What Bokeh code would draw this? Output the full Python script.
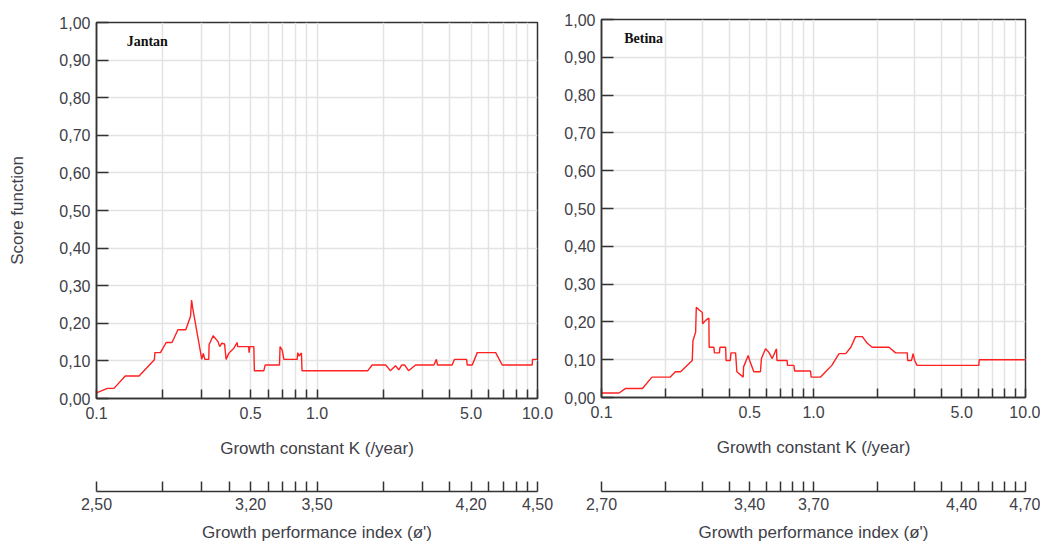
from bokeh.plotting import figure
from bokeh.layouts import row, column
from bokeh.models import FixedTicker, Label, Range1d
from bokeh.embed import file_html
from bokeh.resources import INLINE

# ---------------- data ----------------
k_jantan = [0.100, 0.112, 0.120, 0.135, 0.156, 0.183, 0.184, 0.195, 0.207, 0.220,
            0.234, 0.254, 0.267, 0.270, 0.273, 0.296, 0.300, 0.305, 0.310, 0.323,
            0.324, 0.338, 0.355, 0.362, 0.370, 0.381, 0.387, 0.398, 0.412, 0.420,
            0.434, 0.437, 0.490, 0.492, 0.496, 0.517, 0.520, 0.574, 0.582, 0.676,
            0.680, 0.695, 0.708, 0.813, 0.818, 0.828, 0.850, 0.855, 1.70, 1.78,
            2.05, 2.15, 2.27, 2.35, 2.42, 2.50, 2.60, 2.80, 3.39, 3.48,
            3.52, 4.10, 4.20, 4.77, 4.80, 5.06, 5.33, 6.46, 6.92, 9.46,
            9.50, 10.0]
s_jantan = [0.015, 0.027, 0.027, 0.060, 0.060, 0.103, 0.122, 0.122, 0.149, 0.149,
            0.183, 0.183, 0.219, 0.262, 0.241, 0.125, 0.104, 0.120, 0.104, 0.104,
            0.143, 0.167, 0.152, 0.138, 0.147, 0.145, 0.104, 0.120, 0.129, 0.134,
            0.149, 0.138, 0.138, 0.122, 0.138, 0.138, 0.074, 0.074, 0.089, 0.089,
            0.138, 0.129, 0.104, 0.104, 0.122, 0.113, 0.121, 0.074, 0.074, 0.089,
            0.089, 0.074, 0.087, 0.076, 0.089, 0.089, 0.074, 0.089, 0.089, 0.104,
            0.089, 0.089, 0.104, 0.104, 0.089, 0.089, 0.122, 0.122, 0.089, 0.089,
            0.104, 0.104]

k_betina = [0.100, 0.121, 0.130, 0.156, 0.173, 0.211, 0.223, 0.236, 0.268, 0.270,
            0.278, 0.280, 0.290, 0.299, 0.300, 0.310, 0.321, 0.322, 0.339, 0.341,
            0.360, 0.362, 0.385, 0.387, 0.405, 0.408, 0.429, 0.435, 0.466, 0.468,
            0.492, 0.500, 0.523, 0.562, 0.568, 0.594, 0.615, 0.639, 0.648, 0.669,
            0.672, 0.751, 0.754, 0.808, 0.815, 0.968, 0.975, 1.08, 1.14, 1.22,
            1.32, 1.42, 1.50, 1.58, 1.70, 1.79, 1.89, 2.27, 2.44, 2.77,
            2.78, 2.90, 2.95, 3.00, 3.08, 6.02, 6.05, 10.0]
s_betina = [0.012, 0.012, 0.024, 0.024, 0.054, 0.054, 0.068, 0.068, 0.098, 0.150,
            0.173, 0.239, 0.231, 0.225, 0.195, 0.204, 0.210, 0.133, 0.133, 0.118,
            0.118, 0.133, 0.133, 0.098, 0.098, 0.118, 0.118, 0.068, 0.054, 0.081,
            0.111, 0.098, 0.068, 0.068, 0.103, 0.129, 0.120, 0.103, 0.111, 0.129,
            0.098, 0.098, 0.085, 0.085, 0.070, 0.070, 0.054, 0.054, 0.068, 0.085,
            0.116, 0.116, 0.133, 0.161, 0.161, 0.144, 0.133, 0.133, 0.118, 0.118,
            0.098, 0.098, 0.116, 0.098, 0.085, 0.085, 0.100, 0.100]

k_major = [0.1, 0.5, 1.0, 5.0, 10.0]
k_minor = [0.2, 0.3, 0.4, 0.6, 0.7, 0.8, 0.9, 2.0, 3.0, 4.0, 6.0, 7.0, 8.0, 9.0]
k_labels = ["0.1", "0.5", "1.0", "5.0", "10.0"]
score_ticks = [0.0, 0.1, 0.2, 0.3, 0.4, 0.5, 0.6, 0.7, 0.8, 0.9, 1.0]
score_labels = ["0,00", "0,10", "0,20", "0,30", "0,40", "0,50",
                "0,60", "0,70", "0,80", "0,90", "1,00"]
phi_labels_jantan = ["2,50", "3,20", "3,50", "4,20", "4,50"]
phi_labels_betina = ["2,70", "3,40", "3,70", "4,40", "4,70"]

FONT = "Liberation Sans"
TXT = "#404048"
DARK = "#333333"
GRID = "#e3e3e3"
TICK_FS = "16px"
LABEL_FS = "17px"


def main_panel(k, s, title, title_x, width, b_left, b_right, b_top, b_bottom, ylabel):
    p = figure(width=width, height=463, x_axis_type="log",
               x_range=Range1d(0.1, 10.0), y_range=Range1d(0.0, 1.0),
               output_backend="svg", toolbar_location=None,
               min_border_left=b_left, min_border_right=b_right,
               min_border_top=b_top, min_border_bottom=b_bottom)
    p.line(k, s, line_color="#ff2020", line_width=1.4)

    xt = FixedTicker(ticks=k_major, minor_ticks=k_minor)
    p.xaxis.ticker = xt
    p.xgrid.ticker = xt
    p.xaxis.major_label_overrides = dict(zip(k_major, k_labels))
    p.yaxis.ticker = FixedTicker(ticks=score_ticks)
    p.ygrid.ticker = FixedTicker(ticks=score_ticks)
    p.yaxis.major_label_overrides = dict(zip(score_ticks, score_labels))

    p.xgrid.grid_line_color = GRID
    p.xgrid.minor_grid_line_color = GRID
    p.xgrid.grid_line_width = 1.5
    p.xgrid.minor_grid_line_width = 1.5
    p.ygrid.grid_line_color = GRID
    p.ygrid.grid_line_width = 1.5

    for ax in (p.xaxis[0], p.yaxis[0]):
        ax.axis_line_color = DARK
        ax.axis_line_width = 1.5
        ax.major_tick_line_color = DARK
        ax.major_tick_line_width = 1.5
        ax.major_tick_out = 0
        ax.major_label_text_font = FONT
        ax.major_label_text_font_size = TICK_FS
        ax.major_label_text_color = TXT
        ax.axis_label_text_font = FONT
        ax.axis_label_text_font_size = LABEL_FS
        ax.axis_label_text_color = TXT
        ax.axis_label_text_font_style = "normal"
    p.xaxis.major_tick_in = 9
    p.xaxis.minor_tick_in = 9
    p.xaxis.minor_tick_out = 0
    p.xaxis.minor_tick_line_color = DARK
    p.xaxis.minor_tick_line_width = 1.5
    p.xaxis.major_label_standoff = 8
    p.xaxis.axis_label = "Growth constant K (/year)"
    p.xaxis.axis_label_standoff = 17
    p.yaxis.major_tick_in = 12
    p.yaxis.minor_tick_line_color = None
    p.yaxis.major_label_standoff = 6
    if ylabel:
        p.yaxis.axis_label = ylabel
        p.yaxis.axis_label_standoff = 29

    p.outline_line_color = DARK
    p.outline_line_width = 1.5
    p.background_fill_color = "white"
    p.border_fill_color = "white"

    p.add_layout(Label(x=title_x, y=0.95, text=title, text_baseline="middle",
                       text_align="left", text_font="Liberation Serif",
                       text_font_style="bold", text_font_size="14px",
                       text_color="#111111"))
    return p


def phi_panel(labels, width, b_left, b_right):
    m = figure(width=width, frame_height=24, x_axis_type="log",
               x_range=Range1d(0.1, 10.0), y_range=Range1d(0.0, 1.0),
               output_backend="svg", toolbar_location=None,
               y_axis_location=None,
               min_border_left=b_left, min_border_right=b_right,
               min_border_top=4, min_border_bottom=0)
    m.scatter([0.5], [0.5], alpha=0)
    m.outline_line_color = None
    m.xgrid.visible = False
    m.ygrid.visible = False
    ax = m.xaxis[0]
    ax.ticker = FixedTicker(ticks=k_major, minor_ticks=k_minor)
    ax.major_label_overrides = dict(zip(k_major, labels))
    ax.axis_line_color = DARK
    ax.axis_line_width = 1.5
    ax.major_tick_line_color = DARK
    ax.major_tick_line_width = 1.5
    ax.minor_tick_line_color = DARK
    ax.minor_tick_line_width = 1.5
    ax.major_tick_in = 10
    ax.major_tick_out = 0
    ax.minor_tick_in = 10
    ax.minor_tick_out = 0
    ax.major_label_standoff = 6
    ax.major_label_text_font = FONT
    ax.major_label_text_font_size = TICK_FS
    ax.major_label_text_color = TXT
    ax.axis_label = "Growth performance index (\u00f8')"
    ax.axis_label_standoff = 10
    ax.axis_label_text_font = FONT
    ax.axis_label_text_font_size = LABEL_FS
    ax.axis_label_text_color = TXT
    ax.axis_label_text_font_style = "normal"
    m.background_fill_color = "white"
    m.border_fill_color = "white"
    return m


left = main_panel(k_jantan, s_jantan, "Jantan", 0.137, 557, 96, 20, 22, 65, "Score function")
left_phi = phi_panel(phi_labels_jantan, 557, 96, 20)
right = main_panel(k_betina, s_betina, "Betina", 0.128, 483, 44, 15, 19, 66, None)
right_phi = phi_panel(phi_labels_betina, 483, 44, 15)

layout = row(column(left, left_phi), column(right, right_phi))

open("out.html", "w").write(file_html(layout, INLINE))
